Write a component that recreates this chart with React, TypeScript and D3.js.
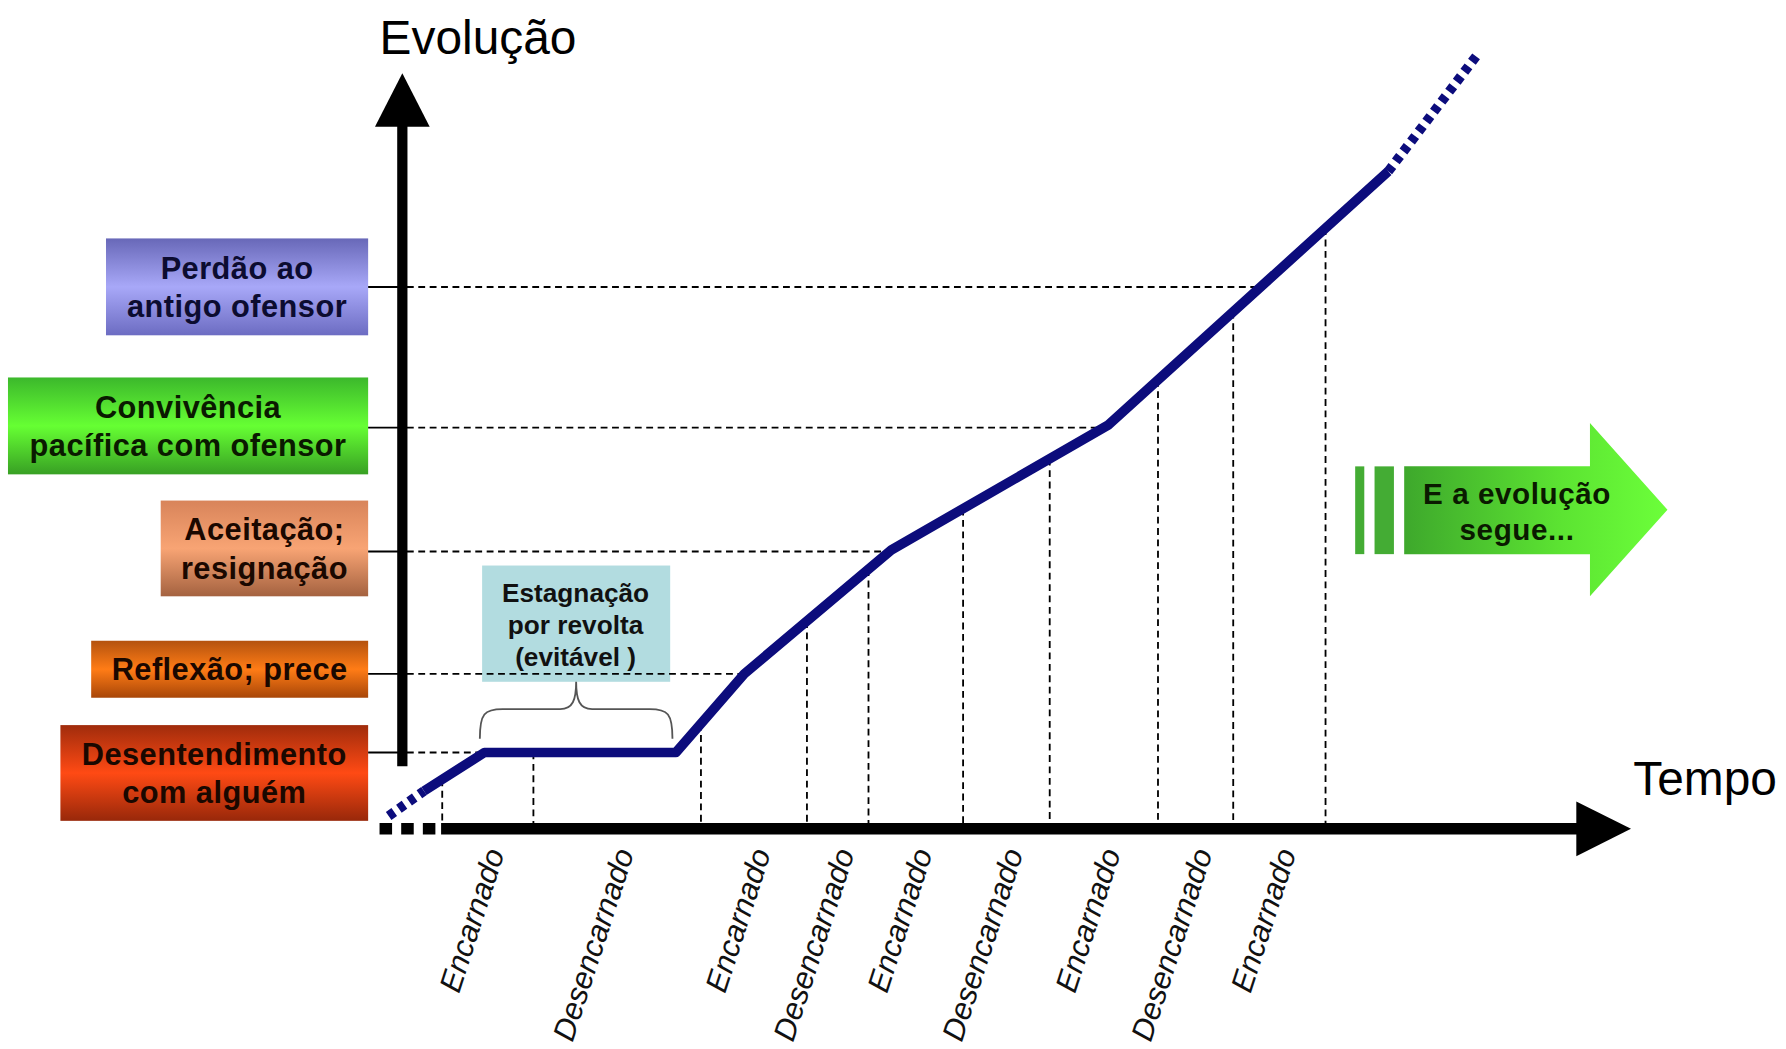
import React from "react";
import * as d3 from "d3";

// view box in the picture's own units
const W = 1567;
const H = 920;

// levels of evolution, bottom to top
const levelLines = [
  ["Desentendimento", "com alguém"],
  ["Reflexão; prece"],
  ["Aceitação;", "resignação"],
  ["Convivência", "pacífica com ofensor"],
  ["Perdão ao", "antigo ofensor"],
];
const levelValues = [1.01, 2.05, 3.67, 5.31, 7.17];

// the evolution curve (tempo, evolução)
const curveT = [-0.47, -0.16, 0.37, 2.05, 2.65, 3.94, 5.84, 8.3, 9.09];
const curveV = [0.17, 0.5, 1.01, 1.01, 2.05, 3.69, 5.34, 8.7, 10.26];

// boundaries between lives and their labels
const lifeBounds = [0, 0.8, 2.27, 3.2, 3.74, 4.57, 5.33, 6.28, 6.94, 7.75];
const lifeLabels = [
  "Encarnado",
  "Desencarnado",
  "Encarnado",
  "Desencarnado",
  "Encarnado",
  "Desencarnado",
  "Encarnado",
  "Desencarnado",
  "Encarnado",
];

const stagnationLines = ["Estagnação", "por revolta", "(evitável )"];
const stagnationSpan = [0.33, 2.02];
const continueLines = ["E a evolução", "segue..."];

// box look, same order as levelLines
const boxStyle = [
  { x0: 53, top: 636, h: 84, c: ["#a02c0c", "#ff4a14", "#98280a"], ink: "#1a0800" },
  { x0: 80, top: 562, h: 50, c: ["#b4520e", "#ff7c16", "#a84608"], ink: "#1a0800" },
  { x0: 141, top: 439, h: 84, c: ["#d8845a", "#f8a474", "#a46240"], ink: "#1a0800" },
  { x0: 7, top: 331, h: 85, c: ["#3cb82c", "#66ff33", "#38a024"], ink: "#0a1a00" },
  { x0: 93, top: 209, h: 85, c: ["#6868b8", "#a8a8f8", "#6c6cc2"], ink: "#0c0c30" },
];

const FONT = "'Liberation Sans', Arial, Helvetica, sans-serif";
const NAVY = "#0c0c7c";

const x = d3.scaleLinear().domain([0, 10]).range([388, 1388]);
const y = d3.scaleLinear().domain([0, 10]).range([727, 64]);

const axisX = 353;
const boxRight = 323;

const pts: [number, number][] = curveT.map((t, i) => [t, curveV[i]]);

function vAt(t: number) {
  for (let i = 1; i < pts.length; i++) {
    if (t <= pts[i][0]) {
      const [t0, v0] = pts[i - 1];
      const [t1, v1] = pts[i];
      return v0 + ((t - t0) / (t1 - t0)) * (v1 - v0);
    }
  }
  return pts[pts.length - 1][1];
}

function tAt(v: number) {
  for (let i = 1; i < pts.length; i++) {
    const [t0, v0] = pts[i - 1];
    const [t1, v1] = pts[i];
    if (v >= Math.min(v0, v1) - 0.02 && v <= Math.max(v0, v1) + 0.02 && v1 !== v0) {
      return t0 + ((v - v0) / (v1 - v0)) * (t1 - t0);
    }
  }
  return 0;
}

const line = d3
  .line<[number, number]>()
  .x((d) => x(d[0]))
  .y((d) => y(d[1]));

export default function App() {
  const dash = "6 4";
  const braceL = x(stagnationSpan[0]);
  const braceR = x(stagnationSpan[1]);
  const braceM = (braceL + braceR) / 2;
  const bY = 648;
  const bMid = 622;
  const bTop = 598;
  const brace = `M${braceL},${bY} C${braceL},${bMid + 4} ${braceL + 4},${bMid} ${braceL + 20},${bMid}
    L${braceM - 14},${bMid} C${braceM - 3},${bMid} ${braceM},${bMid - 8} ${braceM},${bTop}
    C${braceM},${bMid - 8} ${braceM + 3},${bMid} ${braceM + 14},${bMid}
    L${braceR - 20},${bMid} C${braceR - 4},${bMid} ${braceR},${bMid + 4} ${braceR},${bY}`;

  return (
    <svg
      width={1786}
      height={1049}
      viewBox={`0 0 ${W} ${H}`}
      style={{ position: "absolute", left: 0, top: 0, background: "#fff" }}
    >
      <defs>
        {boxStyle.map((b, i) => (
          <linearGradient key={i} id={`box${i}`} x1="0" y1="0" x2="0" y2="1">
            <stop offset="0" stopColor={b.c[0]} />
            <stop offset="0.5" stopColor={b.c[1]} />
            <stop offset="1" stopColor={b.c[2]} />
          </linearGradient>
        ))}
        <linearGradient id="goOn" gradientUnits="userSpaceOnUse" x1="1232" y1="0" x2="1463" y2="0">
          <stop offset="0" stopColor="#3ea82c" />
          <stop offset="0.6" stopColor="#5ce432" />
          <stop offset="1" stopColor="#6cff3a" />
        </linearGradient>
      </defs>

      {/* level boxes */}
      {levelLines.map((lines, i) => {
        const b = boxStyle[i];
        const cx = (b.x0 + boxRight) / 2;
        const cy = b.top + b.h / 2;
        const fs = 27;
        const lh = 34;
        const first = cy - ((lines.length - 1) * lh) / 2 + fs * 0.36;
        return (
          <g key={i}>
            <rect x={b.x0} y={b.top} width={boxRight - b.x0} height={b.h} fill={`url(#box${i})`} />
            <text
              textAnchor="middle"
              fontFamily={FONT}
              fontWeight="bold"
              fontSize={fs}
              letterSpacing={0.4}
              fill={b.ink}
            >
              {lines.map((l, j) => (
                <tspan key={j} x={cx} y={first + j * lh}>
                  {l}
                </tspan>
              ))}
            </text>
          </g>
        );
      })}

      {/* stagnation note */}
      <rect x={423} y={496} width={165} height={102} fill="#b2dce0" />
      <text textAnchor="middle" fontFamily={FONT} fontWeight="bold" fontSize={23} fill="#111">
        {stagnationLines.map((l, j) => (
          <tspan key={j} x={505} y={528 + j * 28}>
            {l}
          </tspan>
        ))}
      </text>
      <path d={brace} fill="none" stroke="#555" strokeWidth={1.6} />

      {/* level guides */}
      {levelValues.map((v, i) => (
        <g key={i} stroke="#000" strokeWidth={1.6}>
          <line x1={boxRight} x2={axisX} y1={y(v)} y2={y(v)} />
          <line x1={axisX + 4} x2={x(tAt(v))} y1={y(v)} y2={y(v)} strokeDasharray={dash} />
        </g>
      ))}

      {/* life boundaries */}
      {lifeBounds.map((t, i) => (
        <line
          key={i}
          x1={x(t)}
          x2={x(t)}
          y1={y(vAt(t))}
          y2={722}
          stroke="#000"
          strokeWidth={1.6}
          strokeDasharray={dash}
        />
      ))}

      {/* life labels */}
      {lifeLabels.map((l, i) => {
        const mid = (x(lifeBounds[i]) + x(lifeBounds[i + 1])) / 2;
        return (
          <text
            key={i}
            transform={`translate(${mid + 6},${745}) rotate(-72)`}
            textAnchor="end"
            dy="0.35em"
            fontFamily={FONT}
            fontStyle="italic"
            fontSize={27}
            fill="#111"
          >
            {l}
          </text>
        );
      })}

      {/* axes */}
      <line x1={axisX} x2={axisX} y1={672} y2={104} stroke="#000" strokeWidth={9} />
      <path d={`M${axisX},64 L${axisX + 24},111 L${axisX - 24},111 Z`} fill="#000" />
      <line x1={333} x2={383} y1={727} y2={727} stroke="#000" strokeWidth={10} strokeDasharray="11 8" />
      <line x1={387} x2={1388} y1={727} y2={727} stroke="#000" strokeWidth={10} />
      <path d={`M1431,727 L1383,703 L1383,751 Z`} fill="#000" />

      <text x={333} y={47} fontFamily={FONT} fontSize={42} fill="#000">
        Evolução
      </text>
      <text x={1433} y={697} fontFamily={FONT} fontSize={42} fill="#000">
        Tempo
      </text>

      {/* evolution curve */}
      <path
        d={line(pts.slice(0, 2)) ?? ""}
        fill="none"
        stroke={NAVY}
        strokeWidth={8.5}
        strokeDasharray="6 5"
      />
      <path
        d={line(pts.slice(1, pts.length - 1)) ?? ""}
        fill="none"
        stroke={NAVY}
        strokeWidth={8.5}
        strokeLinejoin="round"
      />
      <path
        d={line(pts.slice(pts.length - 2)) ?? ""}
        fill="none"
        stroke={NAVY}
        strokeWidth={8.5}
        strokeDasharray="6 5"
      />

      {/* "keeps going" arrow */}
      <rect x={1189} y={409} width={8} height={77} fill="#44ac34" />
      <rect x={1206} y={409} width={17} height={77} fill="#44ac34" />
      <path
        d="M1232,409 L1395,409 L1395,371 L1463,447 L1395,523 L1395,486 L1232,486 Z"
        fill="url(#goOn)"
      />
      <text
        textAnchor="middle"
        fontFamily={FONT}
        fontWeight="bold"
        fontSize={26}
        letterSpacing={0.5}
        fill="#0a1a00"
      >
        {continueLines.map((l, j) => (
          <tspan key={j} x={1331} y={442 + j * 32}>
            {l}
          </tspan>
        ))}
      </text>
    </svg>
  );
}
